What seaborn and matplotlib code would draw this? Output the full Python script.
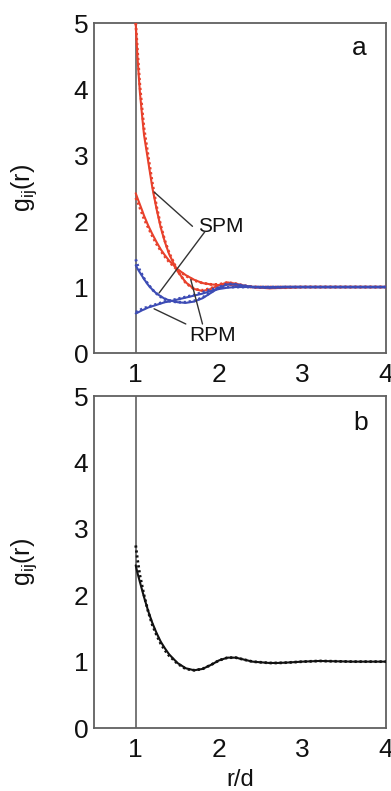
import numpy as np
import pandas as pd
import matplotlib
matplotlib.use("Agg")
import matplotlib.pyplot as plt
import seaborn as sns
from matplotlib.ticker import MultipleLocator

# ---------------- data ----------------
r_top = [1.0, 1.02, 1.05, 1.08, 1.1, 1.15, 1.2, 1.25, 1.3, 1.35, 1.4, 1.5, 1.6, 1.7,
         1.8, 1.9, 2.0, 2.1, 2.2, 2.3, 2.4, 2.6, 2.8, 3.0, 3.3, 3.6, 4.0]
# red, large contact value (theory)
g_red1 = [5.0, 4.5, 3.95, 3.55, 3.3, 2.9, 2.5, 2.18, 1.9, 1.68, 1.5, 1.24, 1.07, 0.97,
          0.94, 0.97, 1.03, 1.07, 1.05, 1.02, 1.0, 0.98, 0.99, 1.0, 1.0, 1.0, 1.0]
g_red1_sim = [5.0, 4.6, 4.05, 3.65, 3.4, 2.98, 2.57, 2.22, 1.93, 1.7, 1.52, 1.25, 1.06, 0.97,
              0.95, 0.98, 1.04, 1.07, 1.05, 1.02, 1.0, 0.99, 0.99, 1.0, 1.0, 1.0, 1.0]
# red, smaller contact value (theory)
g_red2 = [2.42, 2.35, 2.25, 2.15, 2.08, 1.93, 1.8, 1.68, 1.57, 1.48, 1.4, 1.27, 1.18, 1.11,
          1.06, 1.04, 1.03, 1.04, 1.03, 1.01, 1.0, 1.0, 1.0, 1.0, 1.0, 1.0, 1.0]
g_red2_sim = [2.35, 2.3, 2.2, 2.1, 2.03, 1.9, 1.77, 1.65, 1.55, 1.46, 1.38, 1.26, 1.17, 1.1,
              1.06, 1.04, 1.04, 1.04, 1.03, 1.01, 1.0, 1.0, 1.0, 1.0, 1.0, 1.0, 1.0]
# blue, dips
g_blue1 = [1.33, 1.28, 1.22, 1.16, 1.12, 1.03, 0.96, 0.9, 0.86, 0.82, 0.8, 0.77, 0.76, 0.78,
           0.83, 0.91, 0.99, 1.04, 1.04, 1.02, 1.0, 0.99, 1.0, 1.0, 1.0, 1.0, 1.0]
g_blue1_sim = [1.42, 1.34, 1.25, 1.18, 1.13, 1.04, 0.96, 0.9, 0.85, 0.82, 0.79, 0.77, 0.77, 0.79,
               0.84, 0.92, 1.0, 1.05, 1.04, 1.02, 1.0, 0.99, 1.0, 1.0, 1.0, 1.0, 1.0]
# blue, rises
g_blue2 = [0.6, 0.61, 0.63, 0.65, 0.66, 0.69, 0.71, 0.73, 0.75, 0.77, 0.78, 0.81, 0.84, 0.87,
           0.9, 0.94, 0.97, 0.99, 1.0, 1.0, 1.0, 1.0, 1.0, 1.0, 1.0, 1.0, 1.0]
g_blue2_sim = [0.62, 0.63, 0.65, 0.67, 0.68, 0.7, 0.72, 0.74, 0.76, 0.78, 0.79, 0.82, 0.85, 0.88,
               0.92, 0.96, 0.99, 1.0, 1.0, 1.0, 1.0, 1.0, 1.0, 1.0, 1.0, 1.0, 1.0]

r_bot = [1.0, 1.02, 1.05, 1.1, 1.15, 1.2, 1.25, 1.3, 1.35, 1.4, 1.5, 1.6, 1.7, 1.8, 1.9,
         2.0, 2.1, 2.2, 2.3, 2.4, 2.5, 2.6, 2.7, 2.8, 3.0, 3.2, 3.4, 3.6, 3.8, 4.0]
g_black = [2.45, 2.34, 2.2, 1.97, 1.76, 1.58, 1.43, 1.3, 1.2, 1.11, 0.98, 0.9, 0.87, 0.89, 0.95,
           1.02, 1.06, 1.06, 1.03, 1.0, 0.99, 0.98, 0.98, 0.985, 1.0, 1.01, 1.005, 1.0, 1.0, 1.0]
g_black_sim = [2.75, 2.55, 2.3, 2.0, 1.75, 1.55, 1.4, 1.27, 1.17, 1.09, 0.97, 0.89, 0.87, 0.89, 0.95,
               1.02, 1.06, 1.06, 1.03, 1.0, 0.99, 0.98, 0.98, 0.985, 1.0, 1.01, 1.005, 1.0, 1.0, 1.0]

x_ticks = [1, 2, 3, 4]
y_ticks = [0, 1, 2, 3, 4, 5]

# ---------------- style ----------------
sns.set_theme(style="white")
plt.rcParams["font.family"] = ["Liberation Sans", "DejaVu Sans"]
plt.rcParams["mathtext.fontset"] = "custom"
plt.rcParams["mathtext.rm"] = "Liberation Sans"
plt.rcParams["mathtext.it"] = "Liberation Sans"

RED = "#e8412c"
BLUE = "#3d4cb5"
SPINE = "#606060"
TXT = "#111111"

fig = plt.figure(figsize=(3.91, 7.91), dpi=100)
ax1 = fig.add_axes([0.2404, 0.5537, 0.747, 0.4172])
ax2 = fig.add_axes([0.2404, 0.0796, 0.747, 0.4197])


def style_axes(ax):
    ax.set_xlim(0.5, 4.0)
    ax.set_ylim(0, 5)
    ax.set_xticks(x_ticks)
    ax.set_yticks(y_ticks)
    ax.xaxis.set_minor_locator(MultipleLocator(0.5))
    ax.yaxis.set_minor_locator(MultipleLocator(0.5))
    ax.tick_params(which="both", direction="in", color=SPINE, width=1.0,
                   labelsize=19, labelcolor=TXT)
    ax.tick_params(axis="x", which="major", pad=7)
    ax.tick_params(axis="y", which="major", pad=4)
    ax.tick_params(which="major", length=4)
    ax.tick_params(which="minor", length=3)
    for s in ax.spines.values():
        s.set_color(SPINE)
        s.set_linewidth(1.3)
    ax.axvline(1.0, color=SPINE, lw=1.2, zorder=1)
    ax.set_facecolor("white")


style_axes(ax1)
style_axes(ax2)

dot = (0, (0.8, 1.0))
for g, gs, c in [(g_red1, g_red1_sim, RED), (g_red2, g_red2_sim, RED),
                 (g_blue1, g_blue1_sim, BLUE), (g_blue2, g_blue2_sim, BLUE)]:
    df = pd.DataFrame({"r": r_top, "g": g})
    sns.lineplot(data=df, x="r", y="g", ax=ax1, color=c, lw=1.5, zorder=3)
    dfs = pd.DataFrame({"r": r_top, "g": gs})
    sns.lineplot(data=dfs, x="r", y="g", ax=ax1, color=c, lw=2.0, linestyle=dot, zorder=3)

dfb = pd.DataFrame({"r": r_bot, "g": g_black})
sns.lineplot(data=dfb, x="r", y="g", ax=ax2, color="#111111", lw=1.5, zorder=3)
dfbs = pd.DataFrame({"r": r_bot, "g": g_black_sim})
sns.lineplot(data=dfbs, x="r", y="g", ax=ax2, color="#111111", lw=2.0, linestyle=dot, zorder=3)

for ax in (ax1, ax2):
    ax.set_ylabel("g$_{\\mathregular{ij}}$(r)", fontsize=18, color=TXT)
    ax.yaxis.set_label_coords(-0.19, 0.5)
ax1.set_xlabel("")
ax2.set_xlabel("r/d", fontsize=17, color=TXT, labelpad=5)

# annotations
ax1.text(3.68, 4.62, "a", fontsize=19, ha="center", va="center", color=TXT)
ax2.text(3.7, 4.6, "b", fontsize=19, ha="center", va="center", color=TXT)

ax1.text(2.02, 1.91, "SPM", fontsize=15, ha="center", va="center", color=TXT)
ax1.text(1.92, 0.26, "RPM", fontsize=15, ha="center", va="center", color=TXT)
LC = "#333333"
ax1.plot([1.22, 1.68], [2.44, 1.92], color=LC, lw=1.0, zorder=4)
ax1.plot([1.83, 1.28], [1.84, 0.91], color=LC, lw=1.0, zorder=4)
ax1.plot([1.22, 1.60], [0.67, 0.44], color=LC, lw=1.0, zorder=4)
ax1.plot([1.66, 1.80], [1.11, 0.44], color=LC, lw=1.0, zorder=4)

fig.savefig("out.png", dpi=100, facecolor="white")
